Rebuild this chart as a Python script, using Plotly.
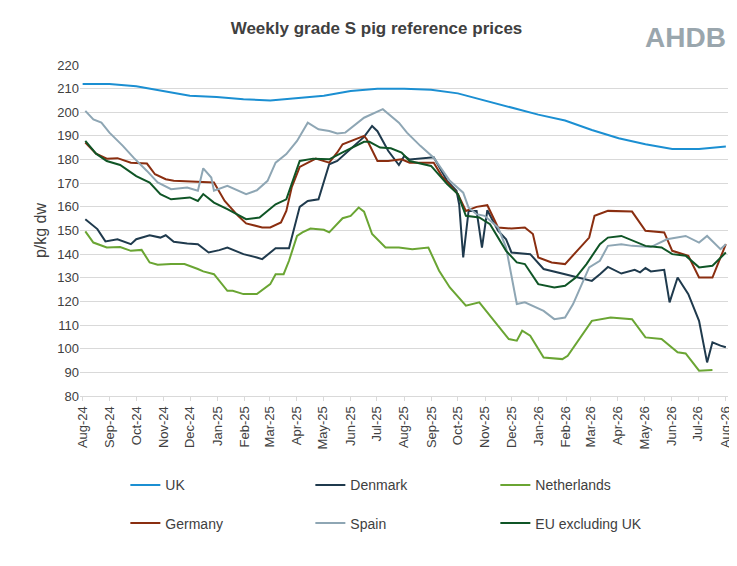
import pandas as pd
import plotly.graph_objects as go

# x positions are months since Aug-24, values in p/kg dw
uk_m = list(range(0, 25))
uk_v = [212, 212, 211, 209, 207, 206.5, 205.5, 205, 206, 207, 209, 210, 210,
        209.5, 208, 205, 202, 199, 196.5, 192.5, 189, 186.5, 184.5, 184.5, 185.5]

dk_m = [0.1, 0.55, 0.85, 1.3, 1.8, 2.0, 2.5, 2.9, 3.1, 3.4, 3.9, 4.3, 4.7, 5.1, 5.4, 6.0,
        6.5, 6.7, 7.2, 7.7, 8.1, 8.4, 8.8, 9.2, 9.5, 10.5, 10.8, 11.0, 11.4, 11.8, 12.0, 12.2,
        13.1, 13.6, 13.95, 14.05, 14.2, 14.4, 14.7, 14.9, 15.1, 15.5, 15.8, 16.0, 16.7, 17.2,
        18.0, 19.0, 19.3, 19.6, 20.1, 20.6, 20.8, 21.0, 21.2, 21.7, 21.9, 22.2, 22.6, 23.0,
        23.3, 23.5, 23.8, 24.0]
dk_v = [154.8, 150.6, 145.4, 146.3, 144.2, 146.3, 148, 147, 148, 145.2, 144.5, 144.2, 140.7,
        141.7, 142.8, 140, 138.6, 137.9, 142.5, 142.5, 160, 162.5, 163.2, 178, 179.4, 189.6,
        194.2, 192, 183.7, 177.7, 181.5, 180, 181, 171, 166.8, 161, 138.6, 158.3, 158.3, 142.8,
        158.6, 149.9, 146.3, 140.7, 140, 133.7, 131.5, 128.7, 131.5, 134.6, 131.8, 133.4, 132.3,
        134.1, 132.7, 133.4, 119.6, 130.1, 123.1, 111.8, 94.2, 102.7, 101.3, 100.6]

nl_m = [0.1, 0.4, 0.9, 1.4, 1.8, 2.2, 2.5, 2.8, 3.3, 3.8, 4.3, 4.5, 4.9, 5.4, 5.6, 6.0, 6.5,
        7.0, 7.2, 7.5, 7.7, 8.0, 8.2, 8.5, 9.0, 9.2, 9.7, 10.0, 10.3, 10.5, 10.8, 11.3, 11.8,
        12.3, 12.9, 13.3, 13.7, 14.3, 14.8, 15.4, 15.9, 16.2, 16.4, 16.7, 17.2, 17.9, 18.1,
        19.0, 19.7, 20.5, 21.0, 21.6, 22.2, 22.5, 23.0, 23.5]
nl_v = [149.6, 144.9, 142.8, 143, 141.4, 141.8, 136.5, 135.5, 135.8, 135.8, 133.7, 132.7,
        131.5, 124.5, 124.5, 123.1, 123.1, 127.3, 131.5, 131.5, 137.2, 147.7, 149.2, 150.8,
        150.3, 149.2, 155.2, 156.2, 159.7, 158, 148.5, 142.8, 142.8, 142.1, 142.8, 133, 125.9,
        118.2, 119.6, 111.1, 104.1, 103.4, 107.6, 105.5, 96.3, 95.6, 97, 111.8, 113.2, 112.5,
        104.8, 104.1, 98.5, 98, 90.7, 91]

de_m = [0.1, 0.5, 0.9, 1.3, 1.8, 2.4, 2.7, 3.1, 3.4, 4.0, 4.9, 5.3, 5.8, 6.1, 6.7, 7.0, 7.4,
        7.6, 7.8, 8.1, 8.5, 8.7, 9.2, 9.5, 9.7, 10.5, 10.6, 11.0, 11.4, 11.9, 12.2, 13.1, 13.4,
        14.0, 14.3, 14.7, 15.1, 15.5, 16.0, 16.5, 16.8, 17.0, 17.5, 18.0, 18.9, 19.1, 19.6,
        20.5, 21.0, 21.7, 22.0, 22.6, 23.0, 23.5, 24.0]
de_v = [187.2, 182.5, 180.4, 180.6, 178.7, 178.3, 173.8, 171.7, 171, 170.6, 170.3, 162.5,
        156.2, 153, 151.3, 151.3, 153.4, 158.3, 168.2, 176.9, 179.4, 180.4, 178.7, 183, 186.5,
        190, 188.6, 179.4, 179.4, 180.1, 178.7, 178.7, 173, 165.4, 158.3, 160, 160.7, 151.3,
        150.8, 151.3, 148.5, 138.6, 136.5, 135.8, 147, 156.2, 158.3, 158, 149.9, 149.2, 141.4,
        139.3, 130.1, 130.1, 144.2]

es_m = [0.1, 0.4, 0.7, 1.0, 1.5, 1.9, 2.4, 2.8, 3.3, 3.9, 4.3, 4.5, 4.8, 4.9, 5.4, 6.1, 6.5,
        6.9, 7.2, 7.6, 8.0, 8.4, 8.8, 9.2, 9.5, 9.8, 10.5, 11.2, 11.8, 12.1, 12.6, 13.1, 13.7,
        14.2, 14.4, 14.7, 15.0, 15.5, 15.8, 16.2, 16.5, 17.2, 17.6, 18.0, 18.3, 18.9, 19.3,
        19.6, 20.1, 20.5, 21.2, 21.8, 22.5, 23.0, 23.3, 23.8, 24.0]
es_v = [200.6, 197, 195.6, 191.4, 185.8, 180.8, 175.2, 170.3, 167.5, 168.2, 166.8, 176.3,
        172.4, 166.8, 168.9, 165.4, 167, 171, 178.7, 182.3, 187.9, 195.6, 192.8, 192.1, 191,
        191.4, 197.7, 201.3, 195.6, 191.4, 185.8, 180.8, 171, 166, 159.7, 156.9, 156.2, 151.3,
        142.8, 118.9, 119.6, 116, 112.5, 113.2, 118.9, 134.4, 137.2, 143.5, 144.2, 143.5, 143,
        146.3, 147.7, 144.9, 147.7, 142.1, 144.2]

eu_m = [0.1, 0.5, 0.9, 1.4, 2.0, 2.5, 2.9, 3.3, 4.0, 4.3, 4.5, 4.9, 5.4, 6.1, 6.6, 7.2, 7.6,
        8.1, 8.6, 9.2, 9.7, 10.5, 10.7, 11.1, 11.5, 11.9, 12.2, 13.0, 13.6, 14.0, 14.3, 14.8,
        15.2, 15.8, 16.2, 16.5, 17.0, 17.6, 18.0, 18.4, 18.8, 19.3, 19.6, 20.1, 21.0, 21.6,
        22.0, 22.5, 23.0, 23.5, 24.0]
eu_v = [187.9, 182.5, 179.4, 177.7, 173, 170.3, 165.4, 163.2, 164, 162.5, 165.4, 161.8, 159,
        154.8, 155.5, 161.1, 163.2, 179.4, 180.4, 180.1, 183, 187.5, 187.5, 185.1, 184.8, 183,
        179.4, 177.3, 169.6, 165.4, 156.2, 155.5, 152.7, 141.4, 136.5, 135.8, 127.3, 125.9,
        126.6, 130.1, 135.8, 144.2, 147, 147.7, 143.5, 142.8, 140, 139.3, 134.4, 135.1, 140.7]

START = pd.Timestamp("2024-08-01")


def to_dates(months):
    return [START + pd.Timedelta(days=m * 30.44) for m in months]


# (name, months, values, colour, legend row)
series = [
    ("UK", uk_m, uk_v, "#1b8fd2", "legend"),
    ("Denmark", dk_m, dk_v, "#1f3a4d", "legend"),
    ("Netherlands", nl_m, nl_v, "#6aa533", "legend"),
    ("Germany", de_m, de_v, "#8a2e10", "legend2"),
    ("Spain", es_m, es_v, "#8ea6b4", "legend2"),
    ("EU excluding UK", eu_m, eu_v, "#0f5526", "legend2"),
]

fig = go.Figure()
for name, m, v, col, leg in series:
    fig.add_trace(go.Scatter(x=to_dates(m), y=v, mode="lines", name=name, legend=leg,
                             line=dict(color=col, width=2)))

legend_style = dict(orientation="h", x=0.07, xanchor="left", yanchor="middle",
                    entrywidth=140, font=dict(size=14, color="#404040"))

fig.update_layout(
    width=737, height=566,
    paper_bgcolor="white", plot_bgcolor="white",
    font=dict(family="Liberation Sans, Arial", size=13, color="#404040"),
    title=dict(text="<b>Weekly grade S pig reference prices</b>", x=0.5, xanchor="center",
               y=0.975, font=dict(size=17, color="#404040")),
    margin=dict(l=72, r=17, t=57, b=178),
    showlegend=True,
    legend=dict(y=-0.27, **legend_style),
    legend2=dict(y=-0.385, **legend_style),
    xaxis=dict(type="date", range=["2024-07-29", "2026-08-04"], dtick="M1",
               tick0="2024-08-01", tickformat="%b-%y", tickangle=-90,
               showgrid=False, showline=True, linecolor="#d9d9d9",
               ticks="outside", tickcolor="#d9d9d9", ticklen=4),
    yaxis=dict(range=[80, 220], dtick=10, showgrid=True, gridcolor="#d9d9d9",
               zeroline=False, title=dict(text="p/kg dw", standoff=6)),
)
fig.add_annotation(text="<b>AHDB</b>", xref="paper", yref="paper", x=1.0, y=1.03,
                   xanchor="right", yanchor="bottom", showarrow=False,
                   font=dict(size=28, color="#9aa6ad"))

fig.write_html("out.html")
